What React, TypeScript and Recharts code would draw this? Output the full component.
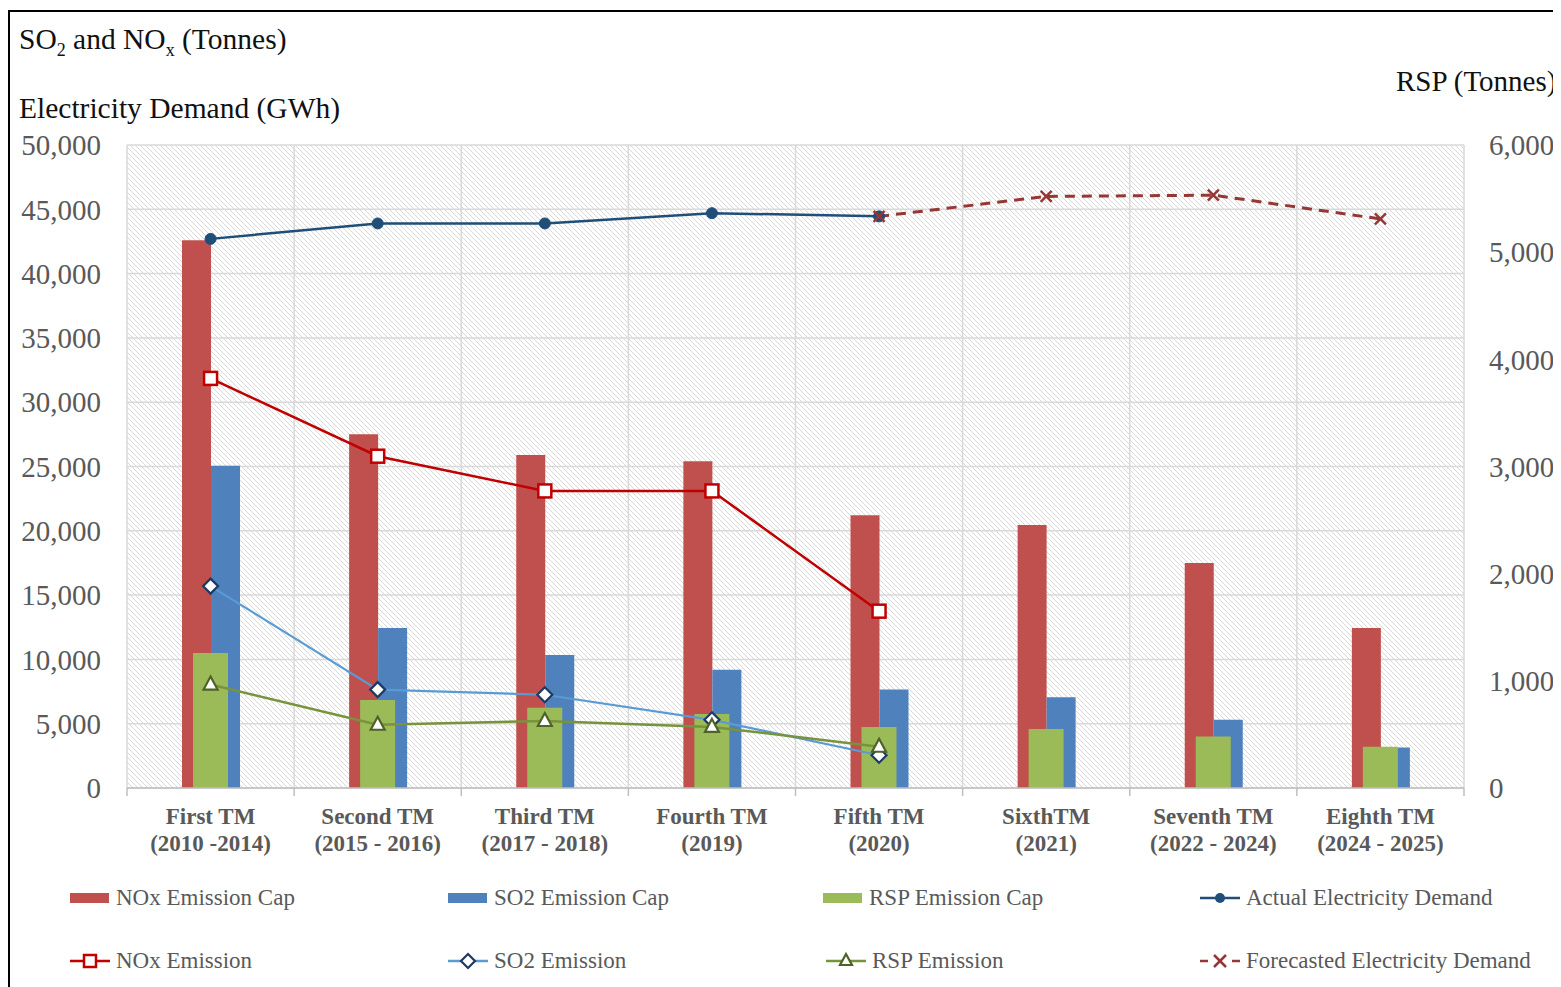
import React from "react";
import {
  ComposedChart,
  Bar,
  Line,
  XAxis,
  YAxis,
  CartesianGrid,
} from "recharts";

const tmNames = ["First TM", "Second TM", "Third TM", "Fourth TM", "Fifth TM", "SixthTM", "Seventh TM", "Eighth TM"];
const tmPeriods = ["(2010 -2014)", "(2015 - 2016)", "(2017 - 2018)", "(2019)", "(2020)", "(2021)", "(2022 - 2024)", "(2024 - 2025)"];

const noxCap = [42600, 27500, 25900, 25400, 21200, 20450, 17500, 12450];
const so2Cap = [25050, 12450, 10350, 9200, 7650, 7050, 5300, 3150];
const rspCap = [1260, 820, 750, 690, 570, 550, 480, 385];

const actualDemand = [42700, 43900, 43900, 44700, 44450, null, null, null];
const forecastDemand = [null, null, null, null, 44450, 46000, 46100, 44250];
const noxEmission = [31850, 25800, 23100, 23100, 13750, null, null, null];
const so2Emission = [15700, 7650, 7250, 5300, 2550, null, null, null];
const rspEmission = [965, 590, 625, 570, 385, null, null, null];

const leftTicks = [0, 5000, 10000, 15000, 20000, 25000, 30000, 35000, 40000, 45000, 50000];
const rightTicks = [0, 1000, 2000, 3000, 4000, 5000, 6000];

const data = tmNames.map((name, i) => ({
  name,
  period: tmPeriods[i],
  noxCap: noxCap[i],
  so2Cap: so2Cap[i],
  rspCap: rspCap[i],
  actual: actualDemand[i],
  forecast: forecastDemand[i],
  noxEm: noxEmission[i],
  so2Em: so2Emission[i],
  rspEm: rspEmission[i],
}));

const SERIF = "'Liberation Serif', 'Times New Roman', serif";
const GREY = "#595959";
const fmt = (v: number) => v.toLocaleString("en-US");

const W = 1553;
const H = 979;
const M = { top: 137, right: 7, left: 19, bottom: 129 };
const LEFT_W = 100;
const RIGHT_W = 90;
const plotLeft = M.left + LEFT_W;
const plotRight = W - M.right - RIGHT_W;
const band = (plotRight - plotLeft) / tmNames.length;

const CategoryTick = (props: any) => {
  const { x, payload, index } = props;
  const d = data[index];
  const marks = [x - band / 2];
  if (index === tmNames.length - 1) marks.push(x + band / 2);
  const axisY = H - M.bottom - 70;
  return (
    <g>
      {marks.map((mx, k) => (
        <line key={k} x1={mx} x2={mx} y1={axisY} y2={axisY + 8} stroke="#bfbfbf" strokeWidth={1.5} />
      ))}
      <text x={x} y={axisY + 36} textAnchor="middle" fill={GREY} fontFamily={SERIF} fontSize={23} fontWeight="bold">
        {payload.value}
      </text>
      <text x={x} y={axisY + 63} textAnchor="middle" fill={GREY} fontFamily={SERIF} fontSize={23} fontWeight="bold">
        {d ? d.period : ""}
      </text>
    </g>
  );
};

const squareDot = (p: any) => {
  const { cx, cy, value, index } = p;
  if (value == null || cy == null) return <g key={`sq${index}`} />;
  return <rect key={`sq${index}`} x={cx - 6.5} y={cy - 6.5} width={13} height={13} fill="#fff" stroke="#C00000" strokeWidth={2.5} />;
};

const diamondDot = (p: any) => {
  const { cx, cy, value, index } = p;
  if (value == null || cy == null) return <g key={`di${index}`} />;
  const r = 7.5;
  return (
    <polygon
      key={`di${index}`}
      points={`${cx},${cy - r} ${cx + r},${cy} ${cx},${cy + r} ${cx - r},${cy}`}
      fill="#fff"
      stroke="#1F3864"
      strokeWidth={2.2}
    />
  );
};

const triangleDot = (p: any) => {
  const { cx, cy, value, index } = p;
  if (value == null || cy == null) return <g key={`tr${index}`} />;
  return (
    <polygon
      key={`tr${index}`}
      points={`${cx},${cy - 8} ${cx + 7},${cy + 5} ${cx - 7},${cy + 5}`}
      fill="#fff"
      stroke="#4F6228"
      strokeWidth={2.2}
    />
  );
};

const circleDot = (p: any) => {
  const { cx, cy, value, index } = p;
  if (value == null || cy == null) return <g key={`ci${index}`} />;
  return <circle key={`ci${index}`} cx={cx} cy={cy} r={5.5} fill="#1F4E79" stroke="#1F4E79" />;
};

const crossDot = (p: any) => {
  const { cx, cy, value, index } = p;
  if (value == null || cy == null) return <g key={`cr${index}`} />;
  const r = 5.5;
  return (
    <g key={`cr${index}`} stroke="#953735" strokeWidth={2.5}>
      <line x1={cx - r} y1={cy - r} x2={cx + r} y2={cy + r} />
      <line x1={cx - r} y1={cy + r} x2={cx + r} y2={cy - r} />
    </g>
  );
};

const LegendItem = ({ x, y, label, kind }: { x: number; y: number; label: string; kind: string }) => {
  let sym: React.ReactNode = null;
  if (kind === "nox-bar") sym = <rect x={0} y={5} width={39} height={10} fill="#C0504D" />;
  if (kind === "so2-bar") sym = <rect x={0} y={5} width={39} height={10} fill="#4F81BD" />;
  if (kind === "rsp-bar") sym = <rect x={0} y={5} width={39} height={10} fill="#9BBB59" />;
  if (kind === "actual")
    sym = (
      <g>
        <line x1={0} x2={40} y1={10} y2={10} stroke="#1F4E79" strokeWidth={2.5} />
        <circle cx={20} cy={10} r={5} fill="#1F4E79" />
      </g>
    );
  if (kind === "nox")
    sym = (
      <g>
        <line x1={0} x2={40} y1={10} y2={10} stroke="#C00000" strokeWidth={2.5} />
        <rect x={14} y={4} width={12} height={12} fill="#fff" stroke="#C00000" strokeWidth={2.5} />
      </g>
    );
  if (kind === "so2")
    sym = (
      <g>
        <line x1={0} x2={40} y1={10} y2={10} stroke="#5B9BD5" strokeWidth={2.5} />
        <polygon points="20,3 27,10 20,17 13,10" fill="#fff" stroke="#1F3864" strokeWidth={2.2} />
      </g>
    );
  if (kind === "rsp")
    sym = (
      <g>
        <line x1={0} x2={40} y1={10} y2={10} stroke="#77933C" strokeWidth={2.5} />
        <polygon points="20,3 26,14 14,14" fill="#fff" stroke="#4F6228" strokeWidth={2.2} />
      </g>
    );
  if (kind === "forecast")
    sym = (
      <g stroke="#953735" strokeWidth={2.5}>
        <line x1={0} x2={8} y1={10} y2={10} />
        <line x1={32} x2={40} y1={10} y2={10} />
        <line x1={14} y1={4} x2={26} y2={16} />
        <line x1={14} y1={16} x2={26} y2={4} />
      </g>
    );
  return (
    <div style={{ position: "absolute", left: x, top: y - 11, display: "flex", alignItems: "center", whiteSpace: "nowrap" }}>
      <svg width={40} height={20} style={{ display: "block", marginRight: 6 }}>
        {sym}
      </svg>
      <span style={{ fontFamily: SERIF, fontSize: 23, color: GREY, lineHeight: "22px" }}>{label}</span>
    </div>
  );
};

const legendItems = [
  { x: 62, y: 890, label: "NOx Emission Cap", kind: "nox-bar" },
  { x: 440, y: 890, label: "SO2 Emission Cap", kind: "so2-bar" },
  { x: 815, y: 890, label: "RSP Emission Cap", kind: "rsp-bar" },
  { x: 1192, y: 890, label: "Actual Electricity Demand", kind: "actual" },
  { x: 62, y: 953, label: "NOx Emission", kind: "nox" },
  { x: 440, y: 953, label: "SO2 Emission", kind: "so2" },
  { x: 818, y: 953, label: "RSP Emission", kind: "rsp" },
  { x: 1192, y: 953, label: "Forecasted Electricity Demand", kind: "forecast" },
];

export default function App() {
  return (
    <div style={{ position: "relative", width: W, height: H }}>
      <style>{`html{overflow:hidden}`}</style>
      <div
        style={{
          position: "absolute",
          left: 0,
          top: 2,
          width: W,
          height: H - 2,
          borderLeft: "2px solid #000",
          borderTop: "2px solid #000",
          boxSizing: "border-box",
        }}
      />
      <div style={{ position: "absolute", left: 11, top: 15, fontFamily: SERIF, fontSize: 29.5, color: "#111", whiteSpace: "nowrap" }}>
        SO<sub style={{ fontSize: 18 }}>2</sub> and NO<sub style={{ fontSize: 18 }}>x</sub> (Tonnes)
      </div>
      <div style={{ position: "absolute", left: 11, top: 84, fontFamily: SERIF, fontSize: 29.5, color: "#111", whiteSpace: "nowrap" }}>
        Electricity Demand (GWh)
      </div>
      <div style={{ position: "absolute", left: 1388, top: 57, fontFamily: SERIF, fontSize: 29, color: "#111", whiteSpace: "nowrap" }}>
        RSP (Tonnes)
      </div>
      <div style={{ position: "absolute", left: 0, top: 0 }}>
        <ComposedChart width={W} height={H} data={data} margin={M} barGap={0}>
          <defs>
            <pattern id="hatch" patternUnits="userSpaceOnUse" width={5} height={5}>
              <rect width={5} height={5} fill="#fff" />
              <path d="M-1,-1 L6,6 M-1,4 L1,6 M4,-1 L6,1" stroke="#d8d8d8" strokeWidth={1} />
            </pattern>
          </defs>
          <CartesianGrid
            yAxisId="left"
            fill="url(#hatch)"
            fillOpacity={1}
            stroke="#d9d9d9"
            strokeWidth={1.5}
            verticalCoordinatesGenerator={({ offset }: any) =>
              Array.from({ length: tmNames.length + 1 }, (_, i) => offset.left + (i * offset.width) / tmNames.length)
            }
          />
          <XAxis
            dataKey="name"
            height={70}
            interval={0}
            tickLine={false}
            axisLine={{ stroke: "#bfbfbf", strokeWidth: 1.5 }}
            tick={<CategoryTick />}
          />
          <XAxis xAxisId="rsp" dataKey="name" hide />
          <YAxis
            yAxisId="left"
            width={LEFT_W}
            domain={[0, 50000]}
            ticks={leftTicks}
            tickFormatter={fmt}
            axisLine={false}
            tickLine={false}
            tickMargin={20}
            tick={{ fill: GREY, fontFamily: SERIF, fontSize: 29 }}
          />
          <YAxis
            yAxisId="right"
            orientation="right"
            width={RIGHT_W}
            domain={[0, 6000]}
            ticks={rightTicks}
            tickFormatter={fmt}
            axisLine={false}
            tickLine={false}
            tickMargin={19}
            tick={{ fill: GREY, fontFamily: SERIF, fontSize: 29, textAnchor: "start" }}
          />
          <Bar yAxisId="left" dataKey="noxCap" fill="#C0504D" barSize={29} isAnimationActive={false} />
          <Bar yAxisId="left" dataKey="so2Cap" fill="#4F81BD" barSize={29} isAnimationActive={false} />
          <Bar xAxisId="rsp" yAxisId="right" dataKey="rspCap" fill="#9BBB59" barSize={35} isAnimationActive={false} />
          <Line yAxisId="left" dataKey="actual" stroke="#1F4E79" strokeWidth={2.5} dot={circleDot} activeDot={false} isAnimationActive={false} />
          <Line
            yAxisId="left"
            dataKey="forecast"
            stroke="#953735"
            strokeWidth={3}
            strokeDasharray="10 7"
            dot={crossDot}
            activeDot={false}
            isAnimationActive={false}
          />
          <Line yAxisId="left" dataKey="noxEm" stroke="#C00000" strokeWidth={2.5} dot={squareDot} activeDot={false} isAnimationActive={false} />
          <Line yAxisId="left" dataKey="so2Em" stroke="#5B9BD5" strokeWidth={2.2} dot={diamondDot} activeDot={false} isAnimationActive={false} />
          <Line yAxisId="right" dataKey="rspEm" stroke="#77933C" strokeWidth={2.5} dot={triangleDot} activeDot={false} isAnimationActive={false} />
        </ComposedChart>
      </div>
      {legendItems.map((it) => (
        <LegendItem key={it.label} {...it} />
      ))}
    </div>
  );
}
